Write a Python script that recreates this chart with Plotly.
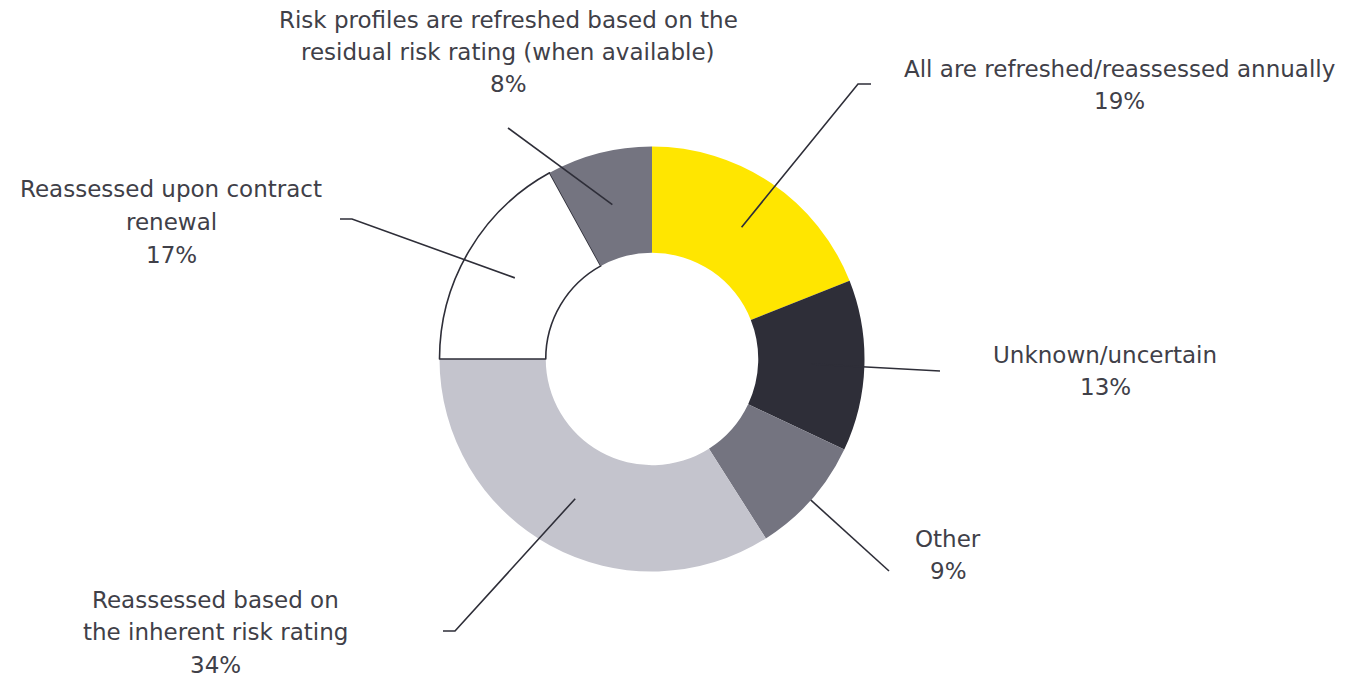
import math
import plotly.graph_objects as go

# Survey answers, in clockwise order from 12 o'clock
categories = [
    "All are refreshed/reassessed annually",
    "Unknown/uncertain",
    "Other",
    "Reassessed based on the inherent risk rating",
    "Reassessed upon contract renewal",
    "Risk profiles are refreshed based on the residual risk rating (when available)",
]
shares = [19, 13, 9, 34, 17, 8]
label_lines = [
    ["All are refreshed/reassessed annually"],
    ["Unknown/uncertain"],
    ["Other"],
    ["Reassessed based on", "the inherent risk rating"],
    ["Reassessed upon contract", "renewal"],
    ["Risk profiles are refreshed based on the", "residual risk rating (when available)"],
]
colors = ["#FFE600", "#2E2E38", "#747480", "#C4C4CD", "#FFFFFF", "#747480"]
outline_w = [0, 0, 0, 0, 1.6, 0]

W, H = 1354, 677
CX, CY, R = 652, 359, 212.5      # donut centre and outer radius (px)
HOLE = 0.5
TEXT = "#404048"
FONT = "DejaVu Sans"
FS = 23
LINE_GAP = 32.5

# label block centres (px) and leader-line elbows / ends
label_pos = [(1119, 85), (1105, 371), (948, 555), (215, 632), (171, 222), (508, 52)]
leader_out = [
    [(858, 84), (871, 84)],
    [(940, 371)],
    [(889, 571)],
    [(455, 631), (443, 631)],
    [(352, 219), (340, 219)],
    [(508, 128)],
]
# leader lines that pass under the ring instead of over it
under = [False, False, True, False, False, False]


def px(x):
    return x / W


def py(y):
    return 1 - y / H


fig = go.Figure(
    go.Pie(
        labels=categories,
        values=shares,
        sort=False,
        direction="clockwise",
        rotation=0,
        hole=HOLE,
        marker=dict(colors=colors, line=dict(color="#2E2E38", width=outline_w)),
        textinfo="none",
        hoverinfo="label+percent",
        showlegend=False,
        domain=dict(x=[px(CX - R), px(CX + R)], y=[py(CY + R), py(CY - R)]),
    )
)

shapes = []
annotations = []
total = sum(shares)
cum = 0
r_mid = R * (1 + HOLE) / 2
for i, v in enumerate(shares):
    mid = (cum + v / 2) / total * 2 * math.pi
    cum += v
    sx = CX + r_mid * math.sin(mid)
    sy = CY - r_mid * math.cos(mid)
    pts = [(sx, sy)] + leader_out[i]
    path = "M " + " L ".join(f"{px(x):.5f},{py(y):.5f}" for x, y in pts)
    shapes.append(dict(
        type="path", path=path, xref="paper", yref="paper",
        line=dict(color="#2E2E38", width=1.6),
        layer="below" if under[i] else "above",
    ))

    lines = label_lines[i] + [f"{v}%"]
    lx, ly = label_pos[i]
    n = len(lines)
    for k, t in enumerate(lines):
        y = ly + (k - (n - 1) / 2) * LINE_GAP
        annotations.append(dict(
            x=px(lx), y=py(y), xref="paper", yref="paper",
            text=t, showarrow=False, xanchor="center", yanchor="middle",
            font=dict(family=FONT, size=FS, color=TEXT),
        ))

fig.update_layout(
    width=W, height=H,
    margin=dict(l=0, r=0, t=0, b=0),
    paper_bgcolor="white", plot_bgcolor="white",
    shapes=shapes, annotations=annotations,
)

fig.write_html("out.html")
